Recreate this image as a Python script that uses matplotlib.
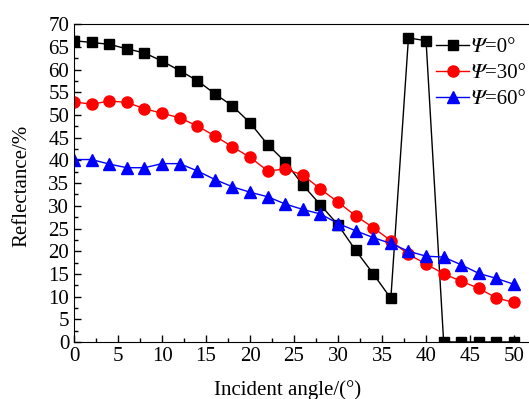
import numpy as np
import matplotlib
matplotlib.use('Agg')
import matplotlib.pyplot as plt
from matplotlib.ticker import MultipleLocator
#
# Datos
#
angle = [0, 2, 4, 6, 8, 10, 12, 14, 16, 18, 20, 22, 24, 26, 28, 30, 32, 34, 36, 38, 40, 42, 44, 46, 48, 50]
psi0 = [66.4, 66.0, 65.6, 64.6, 63.7, 61.9, 59.8, 57.6, 54.7, 52.0, 48.3, 43.5, 39.7,
        34.6, 30.2, 25.8, 20.2, 15.0, 9.6, 67.0, 66.4, 0.0, 0.0, 0.0, 0.0, 0.0]
psi30 = [52.9, 52.4, 53.1, 52.8, 51.4, 50.4, 49.4, 47.6, 45.4, 43.0, 40.7, 37.7, 38.1,
         36.8, 33.7, 30.8, 27.8, 25.2, 22.3, 19.3, 17.2, 15.0, 13.4, 11.8, 9.7, 8.7]
psi60 = [40.2, 40.2, 39.2, 38.4, 38.4, 39.3, 39.3, 37.7, 35.8, 34.2, 33.0, 32.0, 30.4,
         29.2, 28.2, 26.1, 24.5, 23.0, 21.7, 20.0, 18.9, 18.7, 17.0, 15.1, 14.0, 12.7]
labels = ['\U0001D6F9=0°', '\U0001D6F9=30°', '\U0001D6F9=60°']
#
# Estilo
#
plt.rcParams['font.family'] = ['Liberation Serif', 'DejaVu Serif', 'DejaVu Sans', 'STIXGeneral']
plt.rcParams['font.size'] = 15

fig = plt.figure(figsize=(5.29, 3.99), dpi=100)
ax = fig.add_axes([0.140, 0.143, 0.865, 0.796])

ax.plot(angle, psi0, color='black', marker='s', ms=7, lw=1, label=labels[0])
ax.plot(angle, psi30, color='red', marker='o', ms=8, lw=1, label=labels[1])
ax.plot(angle, psi60, color='blue', marker='^', ms=8, lw=1, label=labels[2])
#
# Ejes
#
ax.set_xlim(0, 52)
ax.set_ylim(0, 70)
ax.xaxis.set_major_locator(MultipleLocator(5))
ax.xaxis.set_minor_locator(MultipleLocator(2.5))
ax.yaxis.set_major_locator(MultipleLocator(5))
ax.yaxis.set_minor_locator(MultipleLocator(2.5))
ax.tick_params(which='both', direction='in', top=False, right=False)
ax.tick_params(which='major', length=5, width=1, labelsize=15)
ax.tick_params(which='minor', length=3, width=1)
ax.spines['right'].set_visible(False)

ax.set_xlabel('Incident angle/(°)', fontsize=15)
ax.xaxis.set_label_coords(0.467, -0.12)
ax.set_ylabel('Reflectance/%', fontsize=15)
ax.yaxis.set_label_coords(-0.094, 0.49)

ax.legend(loc='upper left', bbox_to_anchor=(0.824, 0.905), bbox_transform=fig.transFigure,
          frameon=False, handlelength=1.6, handletextpad=0.1, labelspacing=0.3,
          borderaxespad=0, borderpad=0, fontsize=15)

fig.savefig('out.png', dpi=100)
